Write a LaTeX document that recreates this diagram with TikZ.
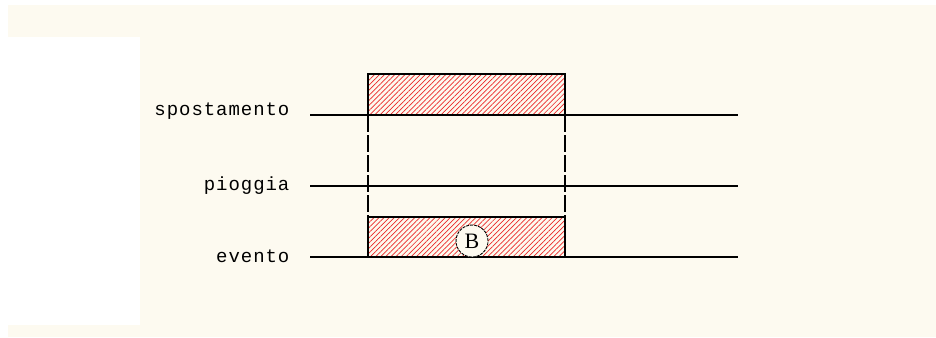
\documentclass[tikz,border=0pt]{standalone}
\usepackage{fontspec}
\usepackage{tikz}
\usetikzlibrary{patterns.meta,positioning}
\newfontfamily\cadfont[LetterSpace=5]{Liberation Mono}
\newfontfamily\tagfont{Liberation Serif}
\definecolor{cadpaper}{RGB}{253,250,240}
\definecolor{cadhatch}{RGB}{235,40,40}

\begin{document}
\begin{tikzpicture}[x=1pt,y=-1pt,line width=1.2pt,
    lbl/.style={font=\cadfont\fontsize{19}{19}\selectfont,anchor=base east,inner sep=0pt},
    band/.style={draw,line width=1.2pt,pattern={Lines[angle=45,distance=3.6pt,line width=0.7pt]},pattern color=cadhatch},
    tag/.style={circle,draw,line width=0.9pt,dash pattern=on 3pt off 1pt,fill=cadpaper,minimum size=32pt,inner sep=0pt,font=\tagfont\fontsize{22}{22}\selectfont}]
    \useasboundingbox (0,0) rectangle (936,337);
    \fill[cadpaper] (8,5) rectangle (936,337);
    \fill[white] (8,37) rectangle (140,325);
    % labels
    \node[lbl] (spost) at (290,115) {spostamento};
    \node[lbl] (piog) at (290,190) {pioggia};
    \node[lbl] (evt) at (290,262) {evento};
    % time lines
    \coordinate (sA) at (310,115); \coordinate (sB) at (738,115);
    \coordinate (pA) at (310,186); \coordinate (pB) at (738,186);
    \coordinate (eA) at (310,257); \coordinate (eB) at (738,257);
    \draw (sA)--(sB);
    \draw (pA)--(pB);
    \draw (eA)--(eB);
    % hatched bands
    \draw[band] (368,74) rectangle (565,115);
    \draw[band] (368,217) rectangle (565,257);
    \draw[line width=1.2pt,dash pattern=on 17pt off 3pt] (368,115)--(368,217);
    \draw[line width=1.2pt,dash pattern=on 17pt off 3pt] (565,115)--(565,217);
    \node[tag] (b) at (472,241) {B};
  \end{tikzpicture}
\end{document}
